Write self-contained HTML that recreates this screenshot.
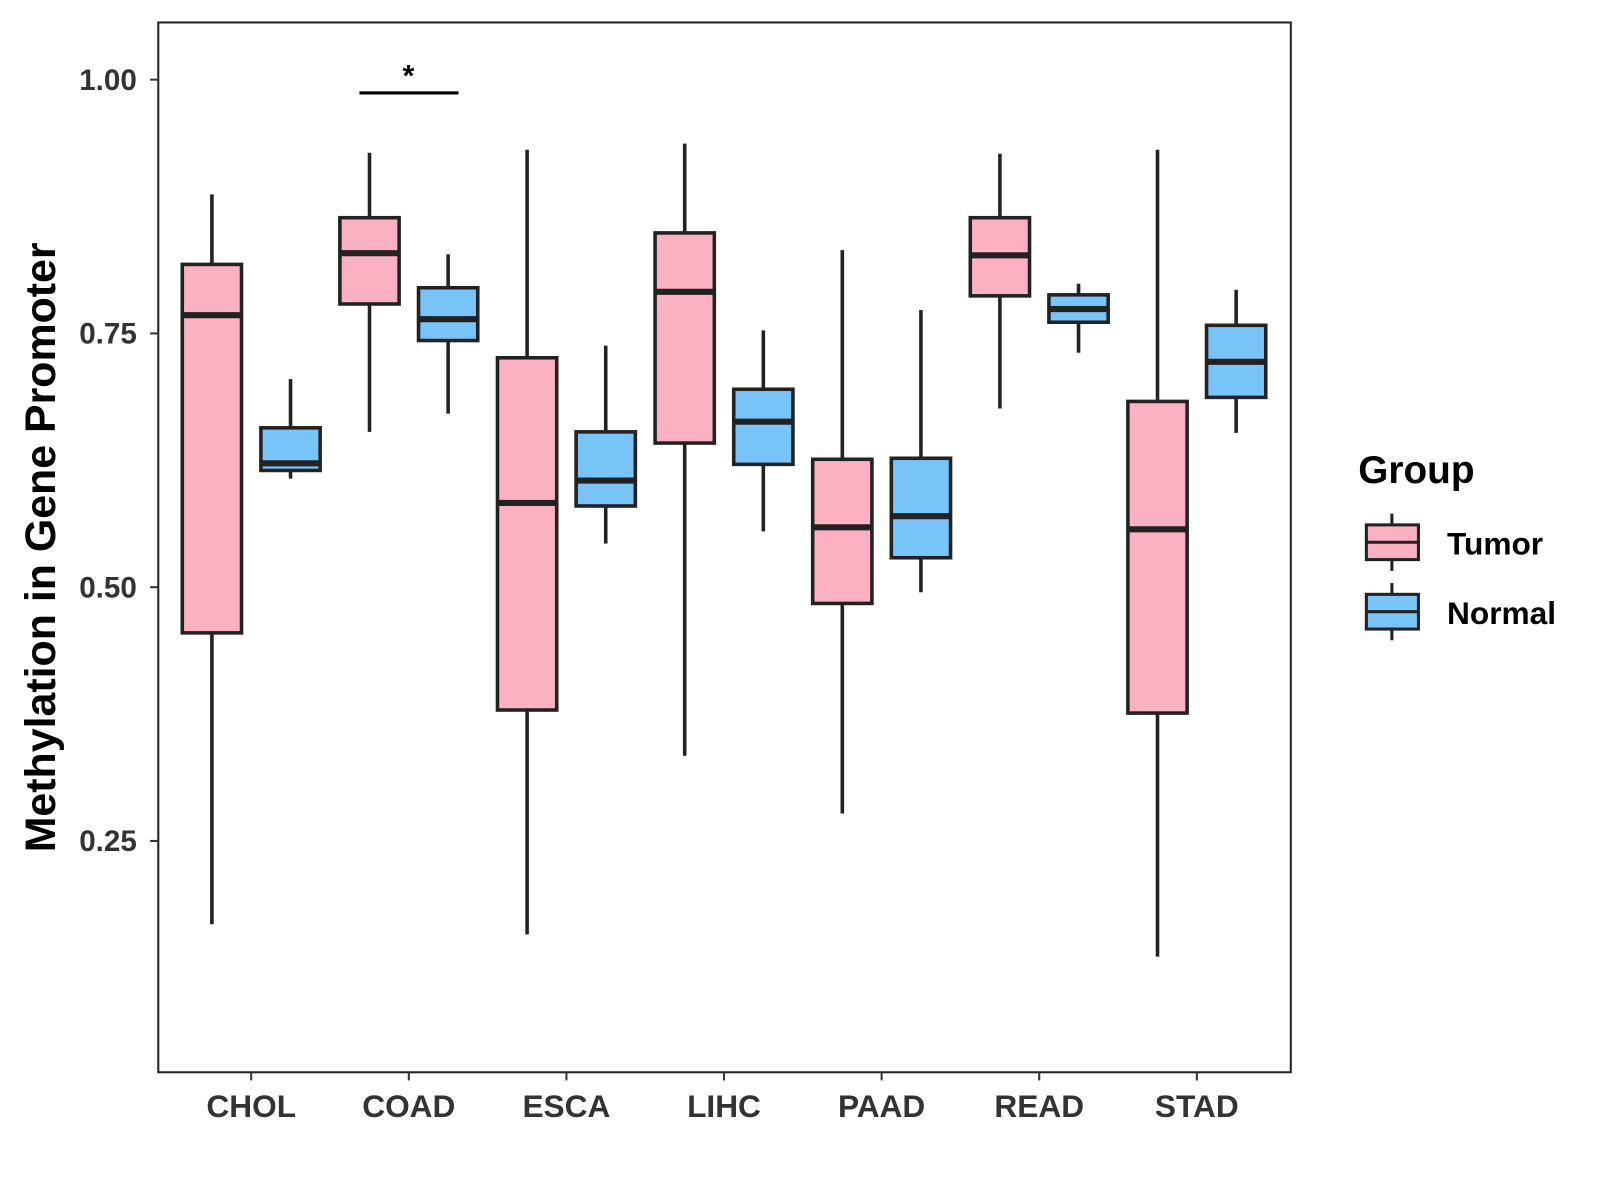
<!DOCTYPE html>
<html><head><meta charset="utf-8"><style>
html,body{margin:0;padding:0;background:#fff;}
svg{display:block;font-family:"Liberation Sans",Arial,sans-serif;}
</style></head><body>
<svg id="chart" width="1600" height="1200" viewBox="0 0 1600 1200">
<g transform="scale(1.0212)">
<rect x="155" y="22" width="1109" height="1028" fill="#fff" stroke="#222" stroke-width="2"/>
<g id="yaxis"></g>
<g id="xaxis"></g>
<g id="boxes"></g>
<text x="0" y="0" transform="translate(54,536) rotate(-90)" text-anchor="middle" font-size="42" font-weight="bold" fill="#000">Methylation in Gene Promoter</text>
<g>
<line x1="352" y1="91" x2="449" y2="91" stroke="#000" stroke-width="3"/>
<text x="400" y="84" text-anchor="middle" font-size="30" font-weight="bold">*</text>
</g>
<g>
<text x="1330" y="473" font-size="38" font-weight="bold">Group</text>
<g>
<line x1="1363" y1="503" x2="1363" y2="559" stroke="#222" stroke-width="3"/>
<rect x="1338" y="514" width="51" height="34" fill="#FBB1C2" stroke="#222" stroke-width="3"/>
<line x1="1338" y1="531" x2="1389" y2="531" stroke="#222" stroke-width="3"/>
<text x="1417" y="543" font-size="31" font-weight="bold">Tumor</text>
</g>
<g>
<line x1="1363" y1="571" x2="1363" y2="627" stroke="#222" stroke-width="3"/>
<rect x="1338" y="582" width="51" height="34" fill="#78C3F8" stroke="#222" stroke-width="3"/>
<line x1="1338" y1="599" x2="1389" y2="599" stroke="#222" stroke-width="3"/>
<text x="1417" y="611" font-size="31" font-weight="bold">Normal</text>
</g>
</g>
</g>
</svg>
<script>
const categories = ["CHOL","COAD","ESCA","LIHC","PAAD","READ","STAD"];
// [low, q1, median, q3, high]
const tumorStats = [
 [0.168,0.455,0.768,0.818,0.887],
 [0.653,0.779,0.829,0.864,0.928],
 [0.158,0.379,0.583,0.726,0.931],
 [0.334,0.642,0.791,0.849,0.937],
 [0.277,0.484,0.559,0.626,0.832],
 [0.676,0.787,0.827,0.864,0.927],
 [0.136,0.376,0.557,0.683,0.931]
];
const normalStats = [
 [0.607,0.615,0.622,0.657,0.705],
 [0.671,0.743,0.764,0.795,0.828],
 [0.543,0.580,0.605,0.653,0.738],
 [0.555,0.621,0.663,0.695,0.753],
 [0.495,0.529,0.570,0.627,0.773],
 [0.731,0.761,0.774,0.788,0.799],
 [0.652,0.687,0.722,0.758,0.793]
];
const yTicks = [0.25,0.50,0.75,1.00];
const yTickLabels = ["0.25","0.50","0.75","1.00"];

const NS = "http://www.w3.org/2000/svg";
function y(v){ return 78 + (1 - v) * 994; }
function x(i){ return 246 + i * 154.33; }
function mk(tag, attrs, parent){
  const e = document.createElementNS(NS, tag);
  for (const k in attrs) e.setAttribute(k, attrs[k]);
  parent.appendChild(e); return e;
}
const yaxis = document.getElementById('yaxis');
yTicks.forEach((t,i)=>{
  const l = mk('line',{x1:147,x2:155,y1:y(t),y2:y(t),stroke:'#333','stroke-width':2},yaxis);
  
  
  const tx = mk('text',{x:134,y:y(t)+10,'text-anchor':'end','font-size':29,'font-weight':'bold',fill:'#333'},yaxis);
  tx.textContent = yTickLabels[i];
  
  
});
const xaxis = document.getElementById('xaxis');
categories.forEach((c,i)=>{
  const l = mk('line',{x1:x(i),x2:x(i),y1:1050,y2:1058,stroke:'#333','stroke-width':2},xaxis);
  
  
  const tx = mk('text',{x:x(i),y:1094,'text-anchor':'middle','font-size':31,'font-weight':'bold',fill:'#333'},xaxis);
  tx.textContent = c;
  
  
});
const boxes = document.getElementById('boxes');
function drawBox(cx, s, fill, name){
  const g = mk('g',{},boxes);
  
  
  mk('line',{x1:cx,x2:cx,y1:y(s[4]),y2:y(s[3]),stroke:'#222','stroke-width':3.5},g);
  mk('line',{x1:cx,x2:cx,y1:y(s[1]),y2:y(s[0]),stroke:'#222','stroke-width':3.5},g);
  mk('rect',{x:cx-29,y:y(s[3]),width:58,height:y(s[1])-y(s[3]),fill:fill,stroke:'#222','stroke-width':3.5},g);
  mk('line',{x1:cx-29,x2:cx+29,y1:y(s[2]),y2:y(s[2]),stroke:'#222','stroke-width':6},g);
}
categories.forEach((c,i)=>{
  drawBox(x(i)-38.5, tumorStats[i], '#FBB1C2', 'box-tumor-'+c.toLowerCase());
  drawBox(x(i)+38.5, normalStats[i], '#78C3F8', 'box-normal-'+c.toLowerCase());
});
</script>
</body></html>
